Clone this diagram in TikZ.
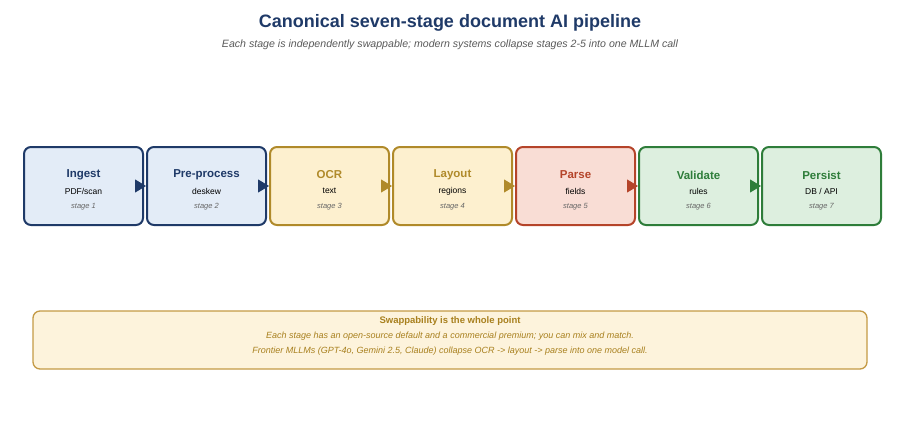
\documentclass[tikz,border=0pt]{standalone}
\usepackage{fontspec}
\setmainfont{Liberation Sans}
\usetikzlibrary{arrows.meta}
\definecolor{blueD}{HTML}{1F3A68}\definecolor{blueL}{HTML}{E3ECF7}
\definecolor{goldD}{HTML}{B08A2A}\definecolor{goldL}{HTML}{FDF0CF}
\definecolor{redD}{HTML}{B5442A}\definecolor{redL}{HTML}{F9DDD5}
\definecolor{greenD}{HTML}{2E7D3A}\definecolor{greenL}{HTML}{DDEFDF}
\definecolor{noteD}{HTML}{C49A45}\definecolor{noteL}{HTML}{FDF3DC}
\definecolor{noteT}{HTML}{A8801E}
\tikzset{
  stage/.style={draw=#1D, fill=#1L, line width=2pt, rounded corners=7pt,
    minimum width=119pt, minimum height=78pt, inner sep=0pt},
  flow/.style={-{Triangle[length=11pt,width=13pt]}, draw=#1D, fill=#1D, line width=1pt},
}
\begin{document}
\begin{tikzpicture}[x=1pt,y=-1pt]
  \useasboundingbox (0,0) rectangle (900,442);

  \node[font=\bfseries\fontsize{18}{20}\selectfont, text=blueD] (title) at (450,23) {Canonical seven-stage document AI pipeline};
  \node[font=\itshape\fontsize{10.6}{12}\selectfont, text=black!65] (sub) at (450,45) {Each stage is independently swappable; modern systems collapse stages 2-5 into one MLLM call};

  \newcommand\X{123}
  \foreach \i/\nm/\sb/\cl [count=\k] in {0/Ingest/{PDF/scan}/blue, 1/Pre-process/deskew/blue, 2/OCR/text/gold,
      3/Layout/regions/gold, 4/Parse/fields/red, 5/Validate/rules/green, 6/Persist/{DB / API}/green}{
    \node[stage=\cl] (s\k) at (83.5+\i*\X,186) {};
    \node[font=\bfseries\fontsize{11.5}{13}\selectfont, text=\cl D] (t\k) at (83.5+\i*\X,175) {\nm};
    \node[font=\fontsize{8.5}{10}\selectfont] (d\k) at (83.5+\i*\X,191) {\sb};
    \node[font=\itshape\fontsize{7.5}{9}\selectfont, text=black!60] (n\k) at (83.5+\i*\X,207) {stage \k};
  }

  \foreach \a/\b/\cl in {1/2/blue, 2/3/blue, 3/4/gold, 4/5/gold, 5/6/red, 6/7/green}
    \draw[flow=\cl] (s\a.east) -- (s\b.west);

  \node[draw=noteD, fill=noteL, line width=1.3pt, rounded corners=7pt,
    minimum width=834pt, minimum height=58pt] (note) at (450,340) {};
  \node[font=\bfseries\fontsize{9.5}{11}\selectfont, text=noteT] (nt) at (450,321) {Swappability is the whole point};
  \node[font=\itshape\fontsize{9}{10}\selectfont, text=noteT] (n1) at (450,336) {Each stage has an open-source default and a commercial premium; you can mix and match.};
  \node[font=\itshape\fontsize{9}{10}\selectfont, text=noteT] (n2) at (450,351) {Frontier MLLMs (GPT-4o, Gemini 2.5, Claude) collapse OCR -> layout -> parse into one model call.};
\end{tikzpicture}
\end{document}
